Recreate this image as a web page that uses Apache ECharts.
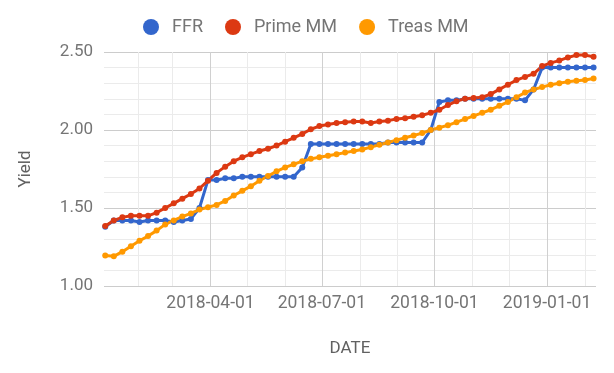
<!DOCTYPE html>
<html>
<head>
<meta charset="utf-8">
<script src="https://cdn.jsdelivr.net/npm/echarts@6/dist/echarts.min.js"></script>
<style>
html,body{margin:0;padding:0;background:#fff;}
#chart{width:614px;height:373px;}
</style>
</head>
<body>
<div id="chart"></div>
<script>
const dates = [
  '2018-01-05','2018-01-12','2018-01-19','2018-01-26','2018-02-02','2018-02-09','2018-02-16','2018-02-23',
  '2018-03-02','2018-03-09','2018-03-16','2018-03-23','2018-03-30','2018-04-06','2018-04-13','2018-04-20',
  '2018-04-27','2018-05-04','2018-05-11','2018-05-18','2018-05-25','2018-06-01','2018-06-08','2018-06-15',
  '2018-06-22','2018-06-29','2018-07-06','2018-07-13','2018-07-20','2018-07-27','2018-08-03','2018-08-10',
  '2018-08-17','2018-08-24','2018-08-31','2018-09-07','2018-09-14','2018-09-21','2018-09-28','2018-10-05',
  '2018-10-12','2018-10-19','2018-10-26','2018-11-02','2018-11-09','2018-11-16','2018-11-23','2018-11-30',
  '2018-12-07','2018-12-14','2018-12-21','2018-12-28','2019-01-04','2019-01-11','2019-01-18','2019-01-25',
  '2019-02-01','2019-02-08'
];
const ffr = [
  1.38,1.42,1.42,1.42,1.41,1.42,1.42,1.42,1.41,1.42,1.43,
  1.50,
  1.68,1.68,1.69,1.69,1.70,1.70,1.70,1.70,1.70,1.70,1.70,
  1.76,
  1.91,1.91,1.91,1.91,1.91,1.91,1.91,1.91,1.91,1.92,1.92,1.92,1.92,1.92,
  2.00,
  2.18,2.19,2.19,2.20,2.20,2.20,2.20,2.20,2.20,2.20,2.19,
  2.26,
  2.40,2.40,2.40,2.40,2.40,2.40,2.40
];
const primeMM = [
  1.385,1.42,1.44,1.45,1.45,1.45,1.47,1.50,1.53,1.56,1.59,1.625,1.675,1.725,1.765,
  1.80,1.825,1.845,1.865,1.88,1.90,1.925,1.95,1.975,2.005,2.025,2.035,2.045,
  2.05,2.055,2.055,2.045,2.055,2.06,2.07,2.075,2.085,2.095,2.11,2.13,2.16,2.185,
  2.20,2.205,2.21,2.23,2.26,2.29,2.32,2.34,2.36,2.41,2.43,2.445,2.465,2.48,2.48,2.47
];
const treasMM = [
  1.195,1.19,1.22,1.255,1.29,1.32,1.355,1.395,1.42,1.445,1.465,1.49,1.505,1.52,1.545,
  1.58,1.61,1.64,1.675,1.705,1.735,1.76,1.78,1.80,1.815,1.825,1.835,1.845,
  1.855,1.865,1.875,1.89,1.905,1.92,1.935,1.95,1.965,1.98,2.00,2.015,2.03,2.05,
  2.07,2.09,2.11,2.13,2.155,2.18,2.21,2.24,2.26,2.275,2.29,2.30,2.31,2.315,2.32,2.33
];
const seriesNames = ['FFR','Prime MM','Treas MM'];
const seriesColors = ['#3366cc','#dc3912','#ff9900'];
const yTicks = [1.0, 1.5, 2.0, 2.5];
const xMin = '2018-01-04';
const xMax = '2019-02-10';

const DAY = 86400000;
function pair(vals){ return dates.map((d,i)=>[d, vals[i]]); }
function fmt(v){
  const d = new Date(v);
  const m = d.getMonth(), day = d.getDate();
  if (day !== 1 || m % 3 !== 0) return '';
  const mm = String(m+1).padStart(2,'0');
  return d.getFullYear() + '-' + mm + '-01';
}
const font = 'Roboto, "Noto Sans", sans-serif';
const chart = echarts.init(document.getElementById('chart'), null, {renderer:'canvas'});
const allVals = [ffr, primeMM, treasMM];
chart.setOption({
  animation: false,
  textStyle: {fontFamily: font},
  legend: {
    top: 13, left: 138,
    icon: 'circle', itemWidth: 16, itemHeight: 16, itemGap: 22,
    textStyle: {fontSize: 18, color: '#757575', fontFamily: font, padding: [0,0,0,8]},
    data: seriesNames
  },
  grid: {left: 104, right: 18, top: 52, bottom: 87, containLabel: false},
  xAxis: [
    {
      type: 'time', position: 'bottom', min: xMin, max: xMax,
      splitNumber: 14, minInterval: 28*DAY, maxInterval: 31*DAY,
      axisLine: {show: false}, axisTick: {show: false}, axisLabel: {show: false},
      splitLine: {show: true, showMinLine: false, showMaxLine: false, lineStyle: {color: '#ebebeb', width: 1}}
    },
    {
      type: 'time', position: 'bottom', min: xMin, max: xMax,
      splitNumber: 4, minInterval: 88*DAY, maxInterval: 93*DAY,
      axisLine: {show: false}, axisTick: {show: false},
      axisLabel: {show: true, formatter: fmt, color: '#757575', fontSize: 17.5, fontFamily: font, margin: 9,
                  showMinLabel: false, showMaxLabel: false, hideOverlap: false},
      splitLine: {show: true, showMinLine: false, showMaxLine: false, lineStyle: {color: '#d0d0d0', width: 1}},
      name: 'DATE', nameLocation: 'middle', nameGap: 54,
      nameTextStyle: {fontSize: 17, color: '#616161', fontFamily: font}
    }
  ],
  yAxis: {
    type: 'value', min: yTicks[0], max: yTicks[yTicks.length-1], interval: 0.5,
    axisLine: {show: false}, axisTick: {show: false},
    axisLabel: {formatter: v => v.toFixed(2), color: '#757575', fontSize: 17, fontFamily: font, margin: 11},
    splitLine: {show: true, lineStyle: {color: '#cccccc', width: 1}},
    minorTick: {show: false, splitNumber: 5},
    minorSplitLine: {show: true, lineStyle: {color: '#ebebeb', width: 1}},
    name: 'Yield', nameLocation: 'middle', nameGap: 70, nameRotate: 90,
    nameTextStyle: {fontSize: 17, color: '#616161', fontFamily: font}
  },
  series: seriesNames.map((n,k)=>({
    name: n, type: 'line', xAxisIndex: 0,
    data: pair(allVals[k]),
    color: seriesColors[k],
    symbol: 'circle', symbolSize: 6, showSymbol: true,
    lineStyle: {width: 3, color: seriesColors[k]},
    itemStyle: {color: seriesColors[k]}
  }))
});
</script>
</body>
</html>
